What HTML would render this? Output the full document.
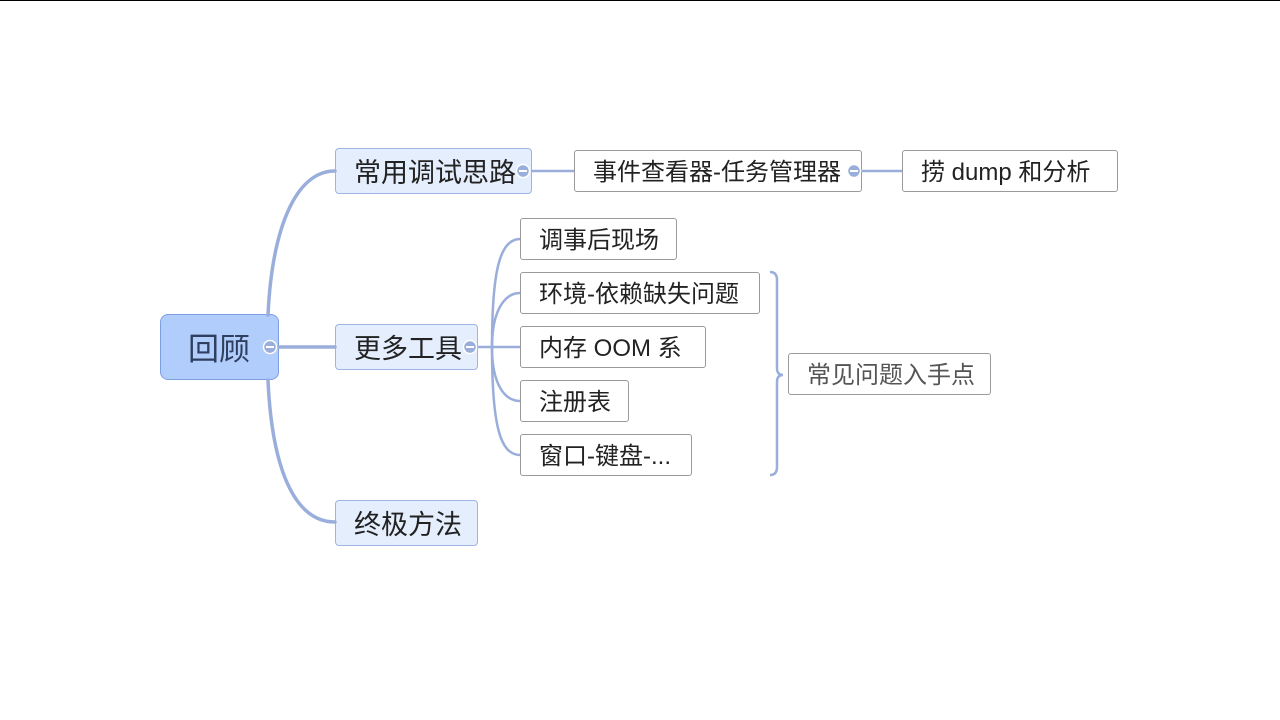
<!DOCTYPE html>
<html><head><meta charset="utf-8">
<style>
html,body{margin:0;padding:0}
body{width:1280px;height:720px;position:relative;background:#fff;overflow:hidden;font-family:"Liberation Sans","Noto Sans CJK SC",sans-serif}
.n{position:absolute;box-sizing:border-box;border:1px solid #9a9a9a;background:#fff;border-radius:3px;color:#222;font-size:24px;line-height:1;display:flex;align-items:center;padding-left:18px;padding-top:4px;white-space:nowrap}
.b{background:#e5eefd;border-color:#9fb4e2;font-size:27px;border-radius:4px}
</style></head><body>
<div style="position:absolute;left:0;top:0;width:1280px;height:1px;background:#000"></div>
<div class="n" style="left:160px;top:314px;width:119px;height:66px;background:#b1cdfb;border-color:#7d9fe2;border-radius:8px;font-size:31px;color:#2f3f60;padding-left:27px">回顾</div>
<div class="n b" style="left:335px;top:148px;width:197px;height:46px">常用调试思路</div>
<div class="n b" style="left:335px;top:324px;width:143px;height:46px">更多工具</div>
<div class="n b" style="left:335px;top:500px;width:143px;height:46px">终极方法</div>
<div class="n" style="left:574px;top:150px;width:288px;height:42px">事件查看器-任务管理器</div>
<div class="n" style="left:902px;top:150px;width:216px;height:42px">捞 dump 和分析</div>
<div class="n" style="left:520px;top:218px;width:157px;height:42px">调事后现场</div>
<div class="n" style="left:520px;top:272px;width:240px;height:42px">环境-依赖缺失问题</div>
<div class="n" style="left:520px;top:326px;width:186px;height:42px">内存 OOM 系</div>
<div class="n" style="left:520px;top:380px;width:109px;height:42px">注册表</div>
<div class="n" style="left:520px;top:434px;width:172px;height:42px">窗口-键盘-...</div>
<div class="n" style="left:788px;top:353px;width:203px;height:42px;color:#555">常见问题入手点</div>
<svg width="1280" height="720" style="position:absolute;left:0;top:0;z-index:5" fill="none">
<g stroke="#9aaedb" stroke-width="3.5" stroke-linecap="round">
<path d="M268,315 C272,230 295,171 335,171"/>
<path d="M268,380 C272,470 295,522 335,522"/>
<path d="M278,347 L335,347"/>
</g>
<g stroke="#9aaedb" stroke-width="2.5">
<path d="M531,171 L574,171"/>
<path d="M861,171 L902,171"/>
<path d="M477,347 L520,347"/>
<path d="M492,347 C492,270 500,239 520,239"/>
<path d="M492,347 C492,310 505,293 520,293"/>
<path d="M492,347 C492,385 505,401 520,401"/>
<path d="M492,347 C492,425 500,455 520,455"/>
<path d="M770,272 Q777,272 777,280 L777,368 Q777,375 783,375 Q777,375 777,382 L777,467 Q777,475 770,475"/>
</g>
<g fill="#9aaedb" stroke="#fff" stroke-width="1.5">
<circle cx="523" cy="171" r="6.5"/><circle cx="270" cy="347" r="6.5"/><circle cx="470" cy="347" r="6.5"/><circle cx="854" cy="171" r="6.5"/>
</g>
<g stroke="#fff" stroke-width="2">
<path d="M519,171h8M266,347h8M466,347h8M850,171h8"/>
</g>
</svg>
</body></html>
